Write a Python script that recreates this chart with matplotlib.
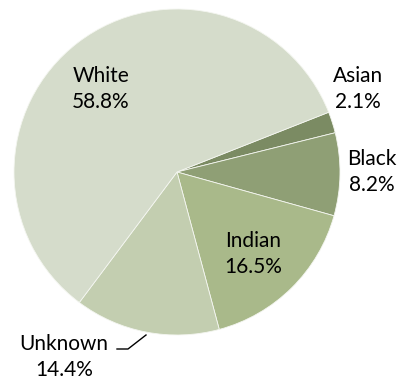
import matplotlib
matplotlib.use("Agg")
import matplotlib.pyplot as plt

categories = ["Asian", "Black", "Indian", "Unknown", "White"]
values = [2.1, 8.2, 16.5, 14.4, 58.8]
colors = ["#7b8b63", "#8f9f75", "#a9b98a", "#c3ceb0", "#d5dccb"]

plt.rcParams['font.family'] = ['Lato', 'DejaVu Sans']

fig = plt.figure(figsize=(4.02, 3.81), dpi=100)
cx, cy, r = 177, 172, 163
W, H = 402, 381
ax = fig.add_axes([(cx - r) / W, (H - cy - r) / H, 2 * r / W, 2 * r / H])
ax.pie(values, colors=colors, startangle=21.5, counterclock=False,
       wedgeprops=dict(edgecolor="#f4f6f0", linewidth=0.6), radius=1.0)
ax.set_xlim(-1, 1)
ax.set_ylim(-1, 1)
ax.set_aspect('equal')
ax.axis('off')

def d(px, py):
    return ((px - cx) / r, (cy - py) / r)

label_pos = {
    "White": d(101, 89),
    "Asian": d(358, 89),
    "Black": d(372, 172),
    "Indian": d(253, 254),
    "Unknown": d(64, 357),
}
for cat, v in zip(categories, values):
    x, y = label_pos[cat]
    ax.text(x, y, f"{cat}\n{v:.1f}%", ha="center", va="center", fontsize=15,
            linespacing=1.35, color="#000000", clip_on=False)

# leader line for Unknown
p1 = d(117, 349); p2 = d(128, 349); p3 = d(146, 335)
ax.plot([p1[0], p2[0], p3[0]], [p1[1], p2[1], p3[1]], color="black", lw=1.0, clip_on=False)

fig.savefig("out.png", dpi=100)
